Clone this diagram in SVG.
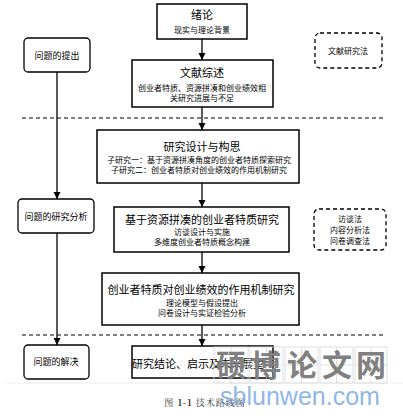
<svg xmlns="http://www.w3.org/2000/svg" width="403" height="418" viewBox="0 0 403 418">
<style>
.box{fill:#fff;stroke:#000;stroke-width:1.5}
.lbox{fill:#fff;stroke:#000;stroke-width:1.3}
.dbox{fill:#fff;stroke:#000;stroke-width:1.3;stroke-dasharray:4 3}
.sep{stroke:#000;stroke-width:1;stroke-dasharray:4 3;fill:none}
.ln{stroke:#000;stroke-width:1.3;fill:none}
text{font-family:"Noto Sans CJK SC","Liberation Sans",sans-serif;fill:#000;text-anchor:middle}
.t{font-size:11px}
.s{font-size:8px}
.wm{font-size:30px;font-weight:bold;fill:#808080;font-family:"Noto Sans CJK SC",serif}
.wg{fill:none;stroke:#d8d8d8;stroke-width:0.8}
</style>
<defs>
<marker id="ah" markerWidth="8" markerHeight="8" refX="7" refY="4" orient="auto" markerUnits="userSpaceOnUse">
<path d="M0,0.5 L7,4 L0,7.5 Z" fill="#000"/>
</marker>
</defs>
<rect width="403" height="418" fill="#fff"/>
<line x1="6" y1="383" x2="403" y2="383" stroke="#eeeeee" stroke-width="1"/>
<g id="separators">
<line class="sep" x1="22" y1="118" x2="384" y2="118"/>
<line class="sep" x1="22" y1="335" x2="384" y2="335"/>
</g>
<g id="connectors">
<line class="ln" x1="202" y1="39" x2="202" y2="60" marker-end="url(#ah)"/>
<line class="ln" x1="202" y1="107" x2="202" y2="130" marker-end="url(#ah)"/>
<line class="ln" x1="202" y1="183" x2="202" y2="207" marker-end="url(#ah)"/>
<line class="ln" x1="202" y1="252" x2="202" y2="273" marker-end="url(#ah)"/>
<line class="ln" x1="202" y1="325" x2="202" y2="346" marker-end="url(#ah)"/>
<line class="ln" x1="57" y1="72" x2="57" y2="199" marker-end="url(#ah)"/>
<line class="ln" x1="57" y1="233" x2="57" y2="345" marker-end="url(#ah)"/>
</g>
<g id="n-xulun">
<rect class="box" x="157" y="4" width="90" height="35"/>
<text class="t" x="202" y="19">绪论</text>
<text class="s" x="202" y="33">现实与理论背景</text>
</g>
<g id="n-wenxian">
<rect class="box" x="132" y="60" width="141" height="47"/>
<text class="t" x="202" y="77">文献综述</text>
<text class="s" x="202" y="91">创业者特质、资源拼凑和创业绩效相</text>
<text class="s" x="202" y="101">关研究进展与不足</text>
</g>
<g id="n-sheji">
<rect class="box" x="97" y="130" width="202" height="53"/>
<text class="t" x="202" y="151">研究设计与构思</text>
<text class="s" x="199" y="163">子研究一：基于资源拼凑角度的创业者特质探索研究</text>
<text class="s" x="199" y="173">子研究二：创业者特质对创业绩效的作用机制研究</text>
</g>
<g id="n-jiyu">
<rect class="box" x="114" y="207" width="175" height="45"/>
<text class="t" x="202" y="224">基于资源拼凑的创业者特质研究</text>
<text class="s" x="202" y="235">访谈设计与实施</text>
<text class="s" x="202" y="245">多维度创业者特质概念构建</text>
</g>
<g id="n-jizhi">
<rect class="box" x="102" y="273" width="197" height="52"/>
<text class="t" x="201" y="294">创业者特质对创业绩效的作用机制研究</text>
<text class="s" x="202" y="306">理论模型与假设提出</text>
<text class="s" x="202" y="316">问卷设计与实证检验分析</text>
</g>
<g id="n-jielun">
<rect class="box" x="132" y="346" width="141" height="32"/>
<text class="t" x="198" y="368">研究结论、启示及未来展望</text>
</g>
<g id="l-tichu">
<rect class="lbox" x="24" y="38" width="66" height="34" rx="4"/>
<text class="s" x="57" y="59" style="font-size:9px">问题的提出</text>
</g>
<g id="l-fenxi">
<rect class="lbox" x="18" y="199" width="76" height="34" rx="4"/>
<text class="s" x="56" y="220" style="font-size:9px">问题的研究分析</text>
</g>
<g id="l-jiejue">
<rect class="lbox" x="24" y="345" width="65" height="34" rx="4"/>
<text class="s" x="56" y="365" style="font-size:9px">问题的解决</text>
</g>
<g id="r-wenxianfa">
<rect class="dbox" x="315" y="33" width="67" height="35" rx="5"/>
<text class="s" x="348" y="54">文献研究法</text>
</g>
<g id="r-fangtan">
<rect class="dbox" x="314" y="209" width="72" height="41" rx="5"/>
<text class="s" x="350" y="222">访谈法</text>
<text class="s" x="350" y="233">内容分析法</text>
<text class="s" x="350" y="244">问卷调查法</text>
</g>
<g id="caption">
<text x="205" y="406" style="font-family:'Noto Serif CJK SC','Liberation Serif',serif;font-size:9px;letter-spacing:1px;fill:#333">图 <tspan font-weight="bold">1-1</tspan> 技术路线图</text>
</g>
<g id="watermark">
<rect class="wg" x="214" y="347" width="34" height="36"/>
<rect class="wg" x="250" y="347" width="33" height="36"/>
<rect class="wg" x="285" y="347" width="33" height="36"/>
<rect class="wg" x="320" y="347" width="33" height="36"/>
<rect class="wg" x="355" y="347" width="32" height="36"/>
<path class="wg" d="M231,347V383M266.5,347V383M301.5,347V383M336.5,347V383M371,347V383M214,365H248M250,365H283M285,365H318M320,365H353M355,365H387"/>
<text class="wm" x="231" y="376">硕</text>
<text class="wm" x="266" y="376">博</text>
<text class="wm" x="302" y="376">论</text>
<text class="wm" x="337" y="376">文</text>
<text class="wm" x="371" y="376">网</text>
<text x="300" y="405" style="font-family:'Liberation Sans',sans-serif;font-size:25px;fill:#6fa3e0;fill-opacity:0.8">sblunwen.com</text>
</g>
</svg>
